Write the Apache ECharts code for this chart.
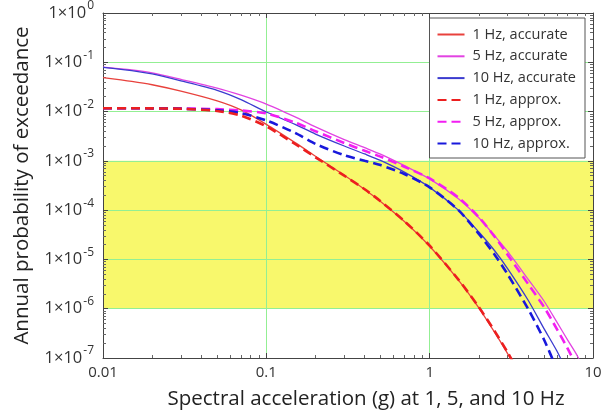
<!DOCTYPE html>
<html>
<head>
<meta charset="utf-8">
<script src="https://cdn.jsdelivr.net/npm/echarts@6/dist/echarts.min.js"></script>
<style>
html,body{margin:0;padding:0;background:#fff;}
#chart{width:613px;height:415px;}
</style>
</head>
<body>
<div id="chart"></div>
<script>
// ---- data ----
const sa = [0.01, 0.015, 0.02, 0.03, 0.05, 0.07, 0.1, 0.15, 0.2, 0.3, 0.4, 0.5, 0.7, 1, 1.5, 2, 2.5, 3, 4, 5, 6, 7, 8, 9];

const acc1Hz  = [0.049, 0.041, 0.035, 0.026, 0.0165, 0.0108, 0.0055, 0.00234, 0.00124, 5.1e-4, 2.63e-4, 1.5e-4, 5.9e-5, 1.85e-5, 3.8e-6, 1.04e-6, 3.3e-7, 1.23e-7, 2.2e-8, null, null, null, null, null];
const acc5Hz  = [0.080, 0.070, 0.061, 0.045, 0.030, 0.0215, 0.0142, 0.0078, 0.0049, 0.0027, 0.00185, 0.00137, 8.0e-4, 4.3e-4, 1.7e-4, 7.0e-5, 3.0e-5, 1.45e-5, 4.0e-6, 1.45e-6, 5.4e-7, 2.3e-7, 1.12e-7, 5.2e-8];
const acc10Hz = [0.079, 0.068, 0.058, 0.042, 0.027, 0.0175, 0.0098, 0.0055, 0.0035, 0.0020, 0.00138, 0.00102, 5.9e-4, 2.9e-4, 1.0e-4, 3.6e-5, 1.5e-5, 6.5e-6, 1.5e-6, 4.0e-7, 1.4e-7, 5.0e-8, null, null];
const apx1Hz  = [0.0117, 0.0117, 0.0116, 0.0114, 0.0103, 0.0083, 0.0050, 0.0022, 0.00118, 5.0e-4, 2.65e-4, 1.52e-4, 6.0e-5, 1.9e-5, 3.9e-6, 1.08e-6, 3.5e-7, 1.3e-7, 2.4e-8, null, null, null, null, null];
const apx5Hz  = [0.0117, 0.0117, 0.0117, 0.0116, 0.0112, 0.0105, 0.0092, 0.0060, 0.0040, 0.0023, 0.0016, 0.00122, 7.6e-4, 4.4e-4, 1.8e-4, 7.2e-5, 2.9e-5, 1.25e-5, 3.2e-6, 1.1e-6, 3.9e-7, 1.55e-7, 6.5e-8, null];
const apx10Hz = [0.0117, 0.0117, 0.0116, 0.0114, 0.0106, 0.0093, 0.0066, 0.0037, 0.0022, 0.0013, 0.0010, 8.2e-4, 5.4e-4, 2.9e-4, 1.0e-4, 3.3e-5, 1.25e-5, 5.0e-6, 1.0e-6, 2.4e-7, 6.0e-8, null, null, null];

const seriesNames = ['1 Hz, accurate', '5 Hz, accurate', '10 Hz, accurate', '1 Hz, approx.', '5 Hz, approx.', '10 Hz, approx.'];
const bandRange = [1e-6, 1e-3];
const xTickLabels = ['0.01', '0.1', '1', '10'];
const yTickExponents = [0, -1, -2, -3, -4, -5, -6, -7];
const xTitle = 'Spectral acceleration (g) at 1, 5, and 10 Hz';
const yTitle = 'Annual probability of exceedance';

// ---- chart ----
const FONT = 'Open Sans';
function pairs(vals) {
  const out = [];
  for (let i = 0; i < sa.length; i++) if (vals[i] != null) out.push([sa[i], vals[i]]);
  return out;
}
function xFmt(v) {
  const e = Math.round(Math.log10(v));
  const idx = e + 2;
  return xTickLabels[idx] != null ? xTickLabels[idx] : '';
}
function yFmt(v) {
  const e = Math.round(Math.log10(v));
  if (yTickExponents.indexOf(e) < 0) return '';
  return '{b|1×10}{s|' + e + '}';
}

const styles = [
  {color: '#e8413c', width: 1.3, type: 'solid', z: 3},
  {color: '#e243e2', width: 1.3, type: 'solid', z: 3},
  {color: '#3b3bcf', width: 1.3, type: 'solid', z: 3},
  {color: '#ec1f1f', width: 2.6, type: [9, 5], z: 6},
  {color: '#f21ef2', width: 2.6, type: [9, 5], z: 4},
  {color: '#1818dc', width: 2.6, type: [9, 5], z: 5}
];
const dataSets = [acc1Hz, acc5Hz, acc10Hz, apx1Hz, apx5Hz, apx10Hz];

const series = dataSets.map((d, i) => ({
  name: seriesNames[i],
  type: 'line',
  data: pairs(d),
  xAxisIndex: 0, yAxisIndex: 0,
  showSymbol: false,
  symbol: 'none',
  smooth: 0.25,
  clip: true,
  z: styles[i].z,
  lineStyle: {color: styles[i].color, width: styles[i].width, type: styles[i].type, cap: 'butt'},
  itemStyle: {color: styles[i].color}
}));

series.unshift({
  name: 'band',
  type: 'line',
  data: [],
  z: 1,
  silent: true,
  markArea: {
    silent: true,
    itemStyle: {color: '#f8f86c'},
    data: [[{yAxis: bandRange[0]}, {yAxis: bandRange[1]}]]
  }
});

const axisLineCol = '#444';
const gridCol = '#93ef93';
const minorTick = {show: true, splitNumber: 9, length: 3, lineStyle: {color: '#666', width: 1}};

const option = {
  backgroundColor: '#ffffff',
  animation: false,
  textStyle: {fontFamily: FONT},
  grid: {left: 103, right: 20, top: 10, bottom: 55, containLabel: false},
  legend: {
    data: seriesNames,
    orient: 'vertical',
    right: 28, top: 18,
    backgroundColor: '#fff',
    borderColor: '#555', borderWidth: 1,
    padding: [9, 9, 7, 7],
    itemWidth: 27, itemHeight: 14, itemGap: 6.8,
    itemStyle: {opacity: 0},
    textStyle: {fontFamily: FONT, fontSize: 14.5, color: '#333', padding: [0, 0, 0, 3]},
    z: 10
  },
  xAxis: [{
    type: 'log', logBase: 10, min: 0.01, max: 10,
    z: 2,
    axisLine: {show: true, lineStyle: {color: axisLineCol, width: 1}},
    axisTick: {show: true, inside: true, length: 5, lineStyle: {color: axisLineCol}},
    minorTick: minorTick,
    splitLine: {show: true, lineStyle: {color: gridCol, width: 1}},
    axisLabel: {formatter: xFmt, fontFamily: FONT, fontSize: 15, color: '#333', margin: 7},
    name: xTitle, nameLocation: 'middle', nameGap: 31,
    nameTextStyle: {fontFamily: FONT, fontSize: 20.5, color: '#222', padding: [0, 0, 0, 36]}
  }, {
    type: 'log', logBase: 10, min: 0.01, max: 10, position: 'top',
    z: 2,
    axisLine: {show: true, lineStyle: {color: axisLineCol, width: 1}},
    axisTick: {show: true, inside: true, length: 5, lineStyle: {color: axisLineCol}},
    minorTick: minorTick,
    splitLine: {show: false},
    axisLabel: {show: false}
  }],
  yAxis: [{
    type: 'log', logBase: 10, min: 1e-7, max: 1, interval: 1,
    z: 2,
    axisLine: {show: true, lineStyle: {color: axisLineCol, width: 1}},
    axisTick: {show: true, inside: true, length: 5, lineStyle: {color: axisLineCol}},
    minorTick: minorTick,
    splitLine: {show: true, lineStyle: {color: gridCol, width: 1}},
    axisLabel: {
      formatter: yFmt, margin: 9, color: '#333',
      rich: {
        b: {fontFamily: FONT, fontSize: 16.5, color: '#333'},
        s: {fontFamily: FONT, fontSize: 12, color: '#333', padding: [0, 0, 14, 1]}
      }
    },
    name: yTitle, nameLocation: 'middle', nameGap: 70,
    nameTextStyle: {fontFamily: FONT, fontSize: 20.5, color: '#222'}
  }, {
    type: 'log', logBase: 10, min: 1e-7, max: 1, interval: 1, position: 'right',
    z: 2,
    axisLine: {show: true, lineStyle: {color: axisLineCol, width: 1}},
    axisTick: {show: true, inside: true, length: 5, lineStyle: {color: axisLineCol}},
    minorTick: minorTick,
    splitLine: {show: false},
    axisLabel: {show: false}
  }],
  series: series
};

const chart = echarts.init(document.getElementById('chart'), null, {renderer: 'canvas'});
chart.setOption(option);
</script>
</body>
</html>
